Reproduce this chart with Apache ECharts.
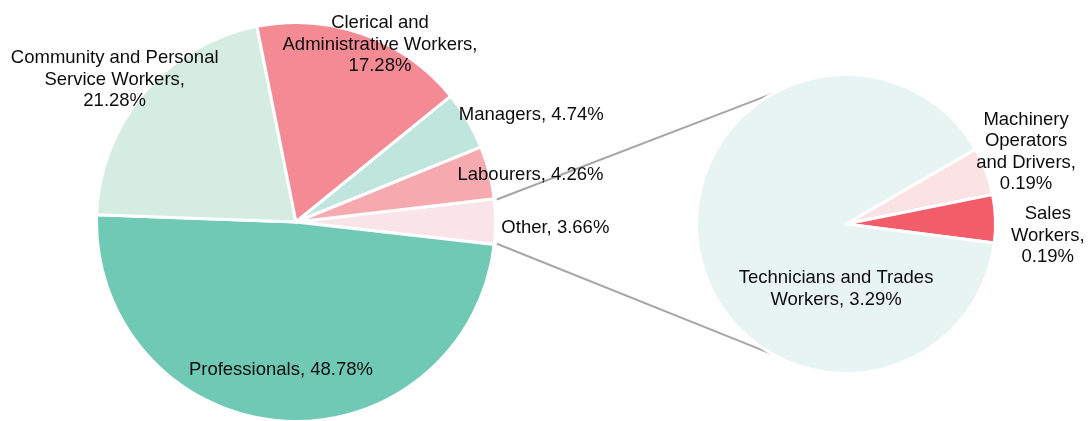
<!DOCTYPE html>
<html>
<head>
<meta charset="utf-8">
<script src="https://cdn.jsdelivr.net/npm/echarts@6/dist/echarts.min.js"></script>
<style>html,body{margin:0;padding:0;background:#fff;}#c{width:1088px;height:421px;}</style>
</head>
<body>
<div id="c"></div>
<script>
// ---- data ----
const mainNames = ['Other', 'Professionals', 'Community and Personal Service Workers', 'Clerical and Administrative Workers', 'Managers', 'Labourers'];
const mainValues = [3.66, 48.78, 21.28, 17.28, 4.74, 4.26];
const mainLabels = ['Other, {v}%', 'Professionals, {v}%', 'Community and Personal\nService Workers,\n{v}%', 'Clerical and\nAdministrative Workers,\n{v}%', 'Managers, {v}%', 'Labourers, {v}%'];

const otherNames = ['Machinery Operators and Drivers', 'Sales Workers', 'Technicians and Trades Workers'];
const otherValues = [0.19, 0.19, 3.29];
const otherLabels = ['Machinery\nOperators\nand Drivers,\n{v}%', 'Sales\nWorkers,\n{v}%', 'Technicians and Trades\nWorkers, {v}%'];

// ---- styles / layout ----
const mainColors = ['#f9e4ea', '#70c9b5', '#d4ece2', '#f48a94', '#c0e5dd', '#f6a9ae'];
const otherColors = ['#fbe2e4', '#f25d6a', '#e8f4f1'];
const C1 = [296, 222], R1 = 198, START1 = 6.7;
const C2 = [846, 224], R2 = 148, START2 = 30;
// label placement: [angle deg, distance as fraction of radius] from pie centre
const mainLabelPolar = [[-0.9, 1.31], [-95.9, 0.74], [141.5, 1.17], [64.9, 1.0], [24.9, 1.31], [11.8, 1.21]];
const otherLabelPolar = [[22.3, 1.315], [-2.8, 1.365], [-99, 0.43]];
const LABEL_DY = 2;
const BW = 3;

function polar(c, r, deg) {
  const a = deg * Math.PI / 180;
  return [c[0] + r * Math.cos(a), c[1] - r * Math.sin(a)];
}

function mkData(names, values, colors) {
  return names.map((n, i) => ({ name: n, value: values[i], itemStyle: { color: colors[i] } }));
}

const textStyle = { fontFamily: 'Liberation Sans, Arial, sans-serif', fontSize: 18.5, lineHeight: 21.5, color: '#0d0d0d' };

function series(c, R, start, names, values, colors, labels, lpos) {
  return {
    type: 'pie',
    center: c,
    radius: [0, R + BW / 2],
    startAngle: start,
    clockwise: true,
    avoidLabelOverlap: false,
    silent: true,
    animation: false,
    emphasis: { disabled: true, scale: false },
    itemStyle: { borderColor: '#fff', borderWidth: BW },
    label: Object.assign({
      show: true,
      position: 'inside',
      overflow: 'none',
      align: 'center',
      formatter: p => labels[p.dataIndex].replace('{v}', values[p.dataIndex].toFixed(2))
    }, textStyle),
    labelLine: { show: false },
    labelLayout: p => {
      const lp = lpos[p.dataIndex];
      const xy = polar(c, lp[1] * R, lp[0]);
      return { x: xy[0], y: xy[1] + LABEL_DY, align: 'center', verticalAlign: 'middle' };
    },
    data: mkData(names, values, colors)
  };
}

// connector lines from the "Other" slice edges to the secondary pie
const otherSpan = mainValues[0] / mainValues.reduce((a, b) => a + b, 0) * 360;
const topA = START1 - 0.3, botA = START1 - otherSpan + 0.3;
const l1a = polar(C1, R1 + 4, topA), l1b = polar(C2, R2 + 1, 117.5);
const l2a = polar(C1, R1 + 4, botA), l2b = polar(C2, R2 + 1, -117.5);

const chart = echarts.init(document.getElementById('c'), null, { renderer: 'canvas' });
chart.setOption({
  animation: false,
  backgroundColor: '#fff',
  graphic: [
    { type: 'line', z: 0, shape: { x1: l1a[0], y1: l1a[1], x2: l1b[0], y2: l1b[1] }, style: { stroke: '#a6a6a6', lineWidth: 2 } },
    { type: 'line', z: 0, shape: { x1: l2a[0], y1: l2a[1], x2: l2b[0], y2: l2b[1] }, style: { stroke: '#a6a6a6', lineWidth: 2 } }
  ],
  series: [
    series(C1, R1, START1, mainNames, mainValues, mainColors, mainLabels, mainLabelPolar),
    series(C2, R2, START2, otherNames, otherValues, otherColors, otherLabels, otherLabelPolar)
  ]
});
</script>
</body>
</html>
